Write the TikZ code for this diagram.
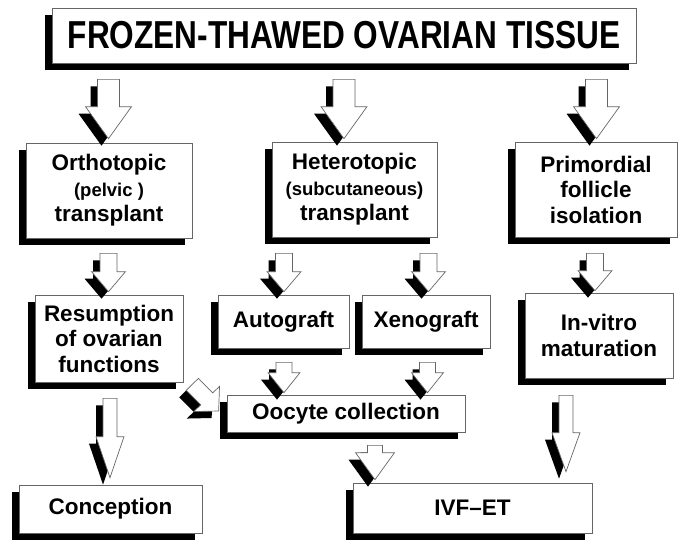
\documentclass[tikz,border=0pt]{standalone}
\usepackage{fontspec}
\setmainfont{Liberation Sans}
\newfontfamily\titlefont[FakeStretch=0.81]{Liberation Sans}
\usetikzlibrary{calc, shadows}

\newcommand\boxfont{\bfseries\fontsize{22.5}{25.5}\selectfont}
\newcommand\parfont{\fontsize{18.5}{23}\selectfont}

% block arrow: tail, tip, shaft half width, head half width, head length
\newcommand\fatarrow[5]{%
    \coordinate (fa-s) at (#1);
    \coordinate (fa-e) at (#2);
    \coordinate (fa-n) at ($(fa-e)!#5!(fa-s)$);
    \filldraw[arrowbody]
        ($(fa-s)!#3!90:(fa-e)$) -- ($(fa-n)!#3!90:(fa-e)$) -- ($(fa-n)!#4!90:(fa-e)$) -- (fa-e)
        -- ($(fa-n)!#4!-90:(fa-e)$) -- ($(fa-n)!#3!-90:(fa-e)$) -- ($(fa-s)!#3!-90:(fa-e)$) -- cycle;
}

\begin{document}
\begin{tikzpicture}[x=1pt, y=-1pt,
    blackshadow/.style={drop shadow={shadow xshift=-7pt, shadow yshift=-7pt, fill=black, opacity=1}},
    box/.style={draw=black!60, line width=0.7pt, fill=white, blackshadow, inner sep=0pt,
        align=center, font=\boxfont},
    arrowbody/.style={draw=black!60, line width=0.7pt, fill=white, blackshadow, line join=miter}]

    \useasboundingbox (0,0) rectangle (682,541);

    \node[box, minimum width=584pt, minimum height=55pt] (title) at (344,35.5)
        {\titlefont\bfseries\fontsize{39}{42}\selectfont FROZEN-THAWED OVARIAN TISSUE};

    \node[box, minimum width=166pt, minimum height=95pt] (ortho) at (109,190.5)
        {Orthotopic\\{\parfont(pelvic )}\\transplant};
    \node[box, minimum width=165pt, minimum height=95pt] (hetero) at (354.5,189.5)
        {Heterotopic\\{\parfont(subcutaneous)}\\transplant};
    \node[box, minimum width=162pt, minimum height=95pt] (primo) at (596,189.5)
        {Primordial\\follicle\\isolation};

    \node[box, minimum width=148pt, minimum height=87pt] (resum) at (109,338.5)
        {Resumption\\of ovarian\\functions};
    \node[box, minimum width=131pt, minimum height=53pt] (auto) at (283.5,321.5) {Autograft};
    \node[box, minimum width=128pt, minimum height=53pt] (xeno) at (426,321.5) {Xenograft};
    \node[box, minimum width=148pt, minimum height=85pt] (invitro) at (599,335.5)
        {In-vitro\\maturation};

    \node[box, minimum width=238pt, minimum height=37pt] (oocyte) at (346,413.5) {Oocyte collection};
    \node[box, minimum width=183pt, minimum height=48pt] (concep) at (110.5,509) {Conception};
    \node[box, minimum width=239pt, minimum height=50pt] (ivf) at (472.5,508) {IVF--ET};

    % first row
    \fatarrow{$(title.south)+(-235.5,16)$}{$(ortho.north)+(-0.5,-4)$}{11pt}{23pt}{32pt}
    \fatarrow{$(title.south)+(0,16)$}{$(hetero.north)+(-10.5,-3)$}{11pt}{23pt}{32pt}
    \fatarrow{$(title.south)+(252.5,16)$}{$(primo.north)+(0.5,-3)$}{11pt}{23pt}{32pt}

    % second row
    \fatarrow{$(ortho.south)+(-0.5,15)$}{$(resum.north)+(-0.5,-3)$}{8.5pt}{17pt}{20pt}
    \fatarrow{$(hetero.south)+(-70.5,16)$}{$(auto.north)+(0.5,-3)$}{8.5pt}{17pt}{20pt}
    \fatarrow{$(hetero.south)+(74,16)$}{$(xeno.north)+(2.5,-3)$}{8.5pt}{17pt}{20pt}
    \fatarrow{$(primo.south)+(-1,16)$}{$(invitro.north)+(-4,-2)$}{8.5pt}{17pt}{20pt}

    % to oocyte collection
    \fatarrow{$(auto.south)+(0.5,14)$}{$(oocyte.north)+(-62,-2)$}{8pt}{16pt}{20pt}
    \fatarrow{$(xeno.south)+(1.5,14)$}{$(oocyte.north)+(81.5,-2)$}{8pt}{16pt}{20pt}
    \fatarrow{$(resum.south east)+(9,2)$}{$(oocyte.west)+(-8,-2.5)$}{8.5pt}{18pt}{17pt}

    % last row
    \fatarrow{$(resum.south)+(1,16)$}{$(concep.north)+(-0.5,-7)$}{7pt}{14pt}{41pt}
    \fatarrow{$(oocyte.south)+(29,13)$}{$(ivf.north)+(-97.5,-3)$}{7.5pt}{19.5pt}{27pt}
    \fatarrow{$(invitro.south)+(-33,17)$}{$(ivf.north)+(93.5,-11)$}{7pt}{14pt}{39pt}

\end{tikzpicture}
\end{document}
